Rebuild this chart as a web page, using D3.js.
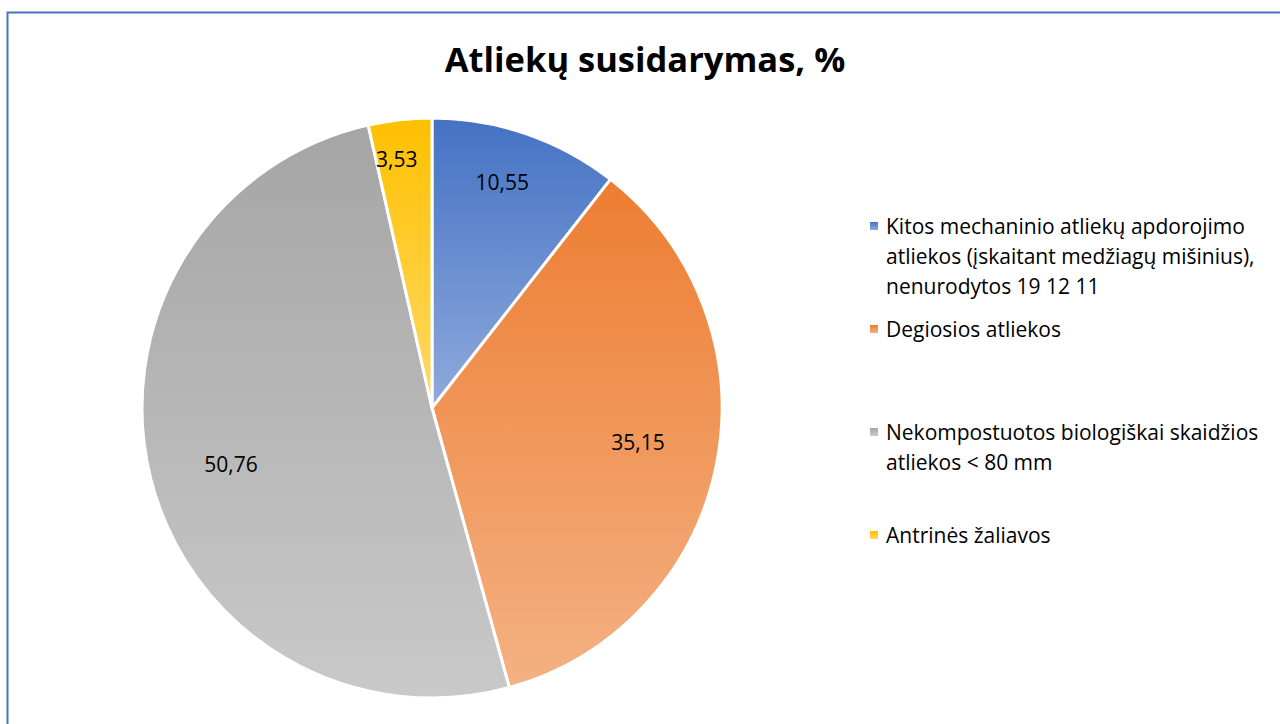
<!DOCTYPE html>
<html>
<head>
<meta charset="utf-8">
<script src="https://cdn.jsdelivr.net/npm/d3@7"></script>
<style>
  body { margin: 0; background: #fff; }
  text { font-family: "Open Sans", "Noto Sans", sans-serif; fill: #000; }
</style>
</head>
<body>
<div id="chart"></div>
<script>
// data
const categories = [
  "Kitos mechaninio atliekų apdorojimo atliekos (įskaitant medžiagų mišinius), nenurodytos 19 12 11",
  "Degiosios atliekos",
  "Nekompostuotos biologiškai skaidžios atliekos < 80 mm",
  "Antrinės žaliavos"
];
const values = [10.55, 35.15, 50.76, 3.53];
const valueLabels = ["10,55", "35,15", "50,76", "3,53"];
const legendLines = [
  ["Kitos mechaninio atliekų apdorojimo", "atliekos (įskaitant medžiagų mišinius),", "nenurodytos 19 12 11"],
  ["Degiosios atliekos"],
  ["Nekompostuotos biologiškai skaidžios", "atliekos < 80 mm"],
  ["Antrinės žaliavos"]
];
const colorsTop = ["#4472C4", "#ED7D31", "#A5A5A5", "#FFC000"];
const colorsBottom = ["#8FAADC", "#F4B183", "#C9C9C9", "#FFD966"];

const W = 1280, H = 724;
const cx = 432, cy = 408, R = 290;

const svg = d3.select("#chart").append("svg")
    .attr("width", W)
    .attr("height", H);

// chart border (right / bottom edges fall outside the picture)
svg.append("rect")
    .attr("x", 7.5).attr("y", 12.5)
    .attr("width", W + 20).attr("height", H + 20)
    .attr("fill", "none")
    .attr("stroke", "#4472C4")
    .attr("stroke-width", 2);

const defs = svg.append("defs");
categories.forEach((c, i) => {
    const g = defs.append("linearGradient")
        .attr("id", "grad" + i)
        .attr("x1", 0).attr("y1", 0).attr("x2", 0).attr("y2", 1);
    g.append("stop").attr("offset", "0%").attr("stop-color", colorsTop[i]);
    g.append("stop").attr("offset", "100%").attr("stop-color", colorsBottom[i]);
});

svg.append("text")
    .attr("x", 645)
    .attr("y", 72)
    .attr("text-anchor", "middle")
    .style("font-size", "34.5px")
    .style("font-weight", "bold")
    .text("Atliekų susidarymas, %");

const pie = d3.pie().sort(null).value(d => d)(values);
const arc = d3.arc().innerRadius(0).outerRadius(R);

const g = svg.append("g").attr("transform", `translate(${cx},${cy})`);

g.selectAll("path.slice")
    .data(pie)
    .enter().append("path")
    .attr("class", "slice")
    .attr("d", arc)
    .attr("fill", (d, i) => `url(#grad${i})`)
    .attr("stroke", "#fff")
    .attr("stroke-width", 3)
    .attr("stroke-linejoin", "round");

// narrow slices push their label further out
const labelR = v => v < 5 ? R * 0.865 : v < 15 ? R * 0.815 : R * 0.72;

g.selectAll("text.lbl")
    .data(pie)
    .enter().append("text")
    .attr("class", "lbl")
    .attr("transform", d => {
        const r = labelR(d.value);
        const a = (d.startAngle + d.endAngle) / 2 - 0.03;
        return `translate(${Math.sin(a) * r},${-Math.cos(a) * r})`;
    })
    .attr("text-anchor", "middle")
    .attr("dy", "0.36em")
    .style("font-size", "21px")
    .text((d, i) => valueLabels[i]);

// legend
const legendY = [226, 329, 432, 535];
const leg = svg.append("g").attr("class", "legend");
legendLines.forEach((lines, i) => {
    const item = leg.append("g").attr("transform", `translate(870,${legendY[i]})`);
    item.append("rect")
        .attr("x", 0).attr("y", -4)
        .attr("width", 8).attr("height", 8)
        .attr("fill", `url(#grad${i})`);
    lines.forEach((t, j) => {
        item.append("text")
            .attr("x", 16)
            .attr("y", j * 30)
            .attr("dy", "0.36em")
            .style("font-size", "21px")
            .text(t);
    });
});
</script>
</body>
</html>
